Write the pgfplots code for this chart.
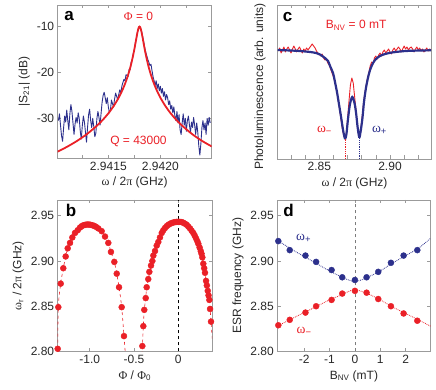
\documentclass[border=0pt]{standalone}
\usepackage{fontspec}
\setmainfont{Liberation Sans}
\newfontfamily\grk{Liberation Serif}
\usepackage{pgfplots}
\pgfplotsset{compat=1.18}

\definecolor{pred}{RGB}{234,32,39}
\definecolor{pblue}{RGB}{44,48,140}
\definecolor{fgray}{RGB}{155,155,155}
\definecolor{txt}{RGB}{40,40,40}

\newcommand{\fs}{\fontsize{12}{14}\selectfont}
\newcommand{\w}{{\grk ω}}

\pgfplotsset{
  panel/.style={
    scale only axis,
    anchor=south west,
    axis line style={fgray, line width=0.7pt},
    tick style={fgray, line width=0.6pt},
    major tick length=3.5pt, minor tick length=3.5pt,
    tick align=inside,
    tick label style={font=\fs, text=txt},
    label style={font=\fs, text=txt},
    /pgf/number format/assume math mode=true,
    scaled ticks=false,
  },
}
\tikzset{
  lett/.style={font=\bfseries\fontsize{17}{17}\selectfont, text=black, anchor=base},
  ann/.style={font=\fs, anchor=base},
  wann/.style={font=\fontsize{13.5}{15}\selectfont, anchor=base},
}

\begin{document}
\begin{tikzpicture}
\path[use as bounding box] (0,0) rectangle (436pt,390pt);

% ---------- a: transmission, x = (f - 2.941 GHz) in units of 1e-5 GHz
\begin{axis}[panel, at={(57.7pt,231.7pt)}, width=154pt, height=153.3pt,
  xmin=1.3, xmax=149.4, ymin=-38.7, ymax=-5.3,
  xtick={50,100}, xticklabels={2.9415,2.9420}, minor xtick={25,75,125},
  ytick={-30,-20,-10},
  xlabel={\w\ / 2{\grk π} (GHz)}, ylabel={|S\textsubscript{21}| (dB)}]
\addplot[pblue, line width=0.9pt, line join=round] coordinates {
 (2,-30.5) (3,-29.0) (4,-31.5) (5,-33.8) (6,-35.0) (7,-32.0) (8,-29.5) (9,-30.8)
 (10,-28.2) (11,-30.5) (12,-32.5) (13,-29.0) (14,-27.0) (15,-28.5) (16,-31.0) (17,-33.5)
 (18,-31.2) (19,-29.8) (20,-31.0) (21,-28.8) (22,-30.0) (23,-32.8) (24,-34.5) (25,-31.5)
 (26,-29.5) (27,-30.8) (28,-33.0) (29,-35.2) (30,-32.0) (31,-29.2) (32,-28.0) (33,-30.5)
 (34,-32.0) (35,-30.0) (36,-31.8) (37,-34.0) (38,-33.2) (39,-30.0) (40,-28.5) (41,-29.8)
 (42,-31.5) (43,-29.0) (44,-26.5) (45,-25.0) (46,-24.3) (47,-25.5) (48,-26.8) (49,-25.5)
 (50,-27.5) (51,-28.8) (52,-28.2) (53,-26.0) (54,-26.8) (55,-27.5) (56,-25.8) (57,-24.5)
 (58,-25.2) (59,-26.0) (60,-24.8) (61,-23.8) (62,-24.5) (63,-23.0) (64,-22.2) (65,-21.5)
 (66,-21.8) (67,-20.5) (68,-20.6) (69,-20.9) (70,-19.3) (71,-19.4) (72,-17.7) (73,-17.4)
 (74,-15.8) (75,-15.1) (76,-13.5) (77,-12.6) (78,-11.2) (79,-10.4) (80,-10.0) (81,-10.5)
 (82,-11.1) (83,-12.2) (84,-13.3) (85,-14.6) (86,-15.6) (87,-16.4) (88,-17.2) (89,-17.8)
 (90,-18.5) (91,-18.2) (92,-19.6) (93,-20.9) (94,-21.8) (95,-22.8) (96,-21.8) (97,-23.5)
 (98,-22.5) (99,-24.0) (100,-23.0) (101,-24.5) (102,-23.5) (103,-25.2) (104,-24.2) (105,-26.0)
 (106,-24.8) (107,-25.5) (108,-27.0) (109,-26.2) (110,-28.0) (111,-27.2) (112,-28.8) (113,-27.5)
 (114,-29.5) (115,-30.5) (116,-28.5) (117,-31.0) (118,-29.2) (119,-32.5) (120,-33.5) (121,-31.0)
 (122,-29.0) (123,-31.5) (124,-30.0) (125,-32.8) (126,-30.5) (127,-29.5) (128,-31.5) (129,-33.0)
 (130,-30.8) (131,-32.0) (132,-29.8) (133,-31.5) (134,-33.5) (135,-31.0) (136,-33.0) (137,-36.0)
 (138,-38.0) (139,-35.5) (140,-32.0) (141,-30.5) (142,-32.5) (143,-31.0) (144,-33.5) (145,-30.0)
 (146,-31.5) (147,-29.8) (148,-31.0)
};
\addplot[pred, line width=1.8pt, smooth] coordinates {
 (1,-37.28) (10,-36.23) (20,-34.90) (30,-33.32) (40,-31.39) (45,-30.24) (50,-28.92)
 (55,-27.36) (60,-25.47) (64,-23.60) (67,-21.89) (70,-19.80) (72,-18.11) (74,-16.10)
 (75,-14.97) (76,-13.74) (77,-12.48) (78,-11.28) (79,-10.36) (79.5,-10.09) (80,-10)
 (80.5,-10.09) (81,-10.36) (82,-11.28) (83,-12.48) (84,-13.74) (85,-14.97) (86,-16.10)
 (88,-18.11) (90,-19.80) (93,-21.89) (96,-23.60) (100,-25.47) (105,-27.36) (110,-28.92)
 (115,-30.24) (120,-31.39) (130,-33.32) (140,-34.90) (149.5,-36.12)
};
\node[ann, pred] at (axis cs:79,-8.7) {{\grk Φ} = 0};
\node[ann, pred] at (axis cs:79,-35.8) {Q = 43000};
\node[lett] at (rel axis cs:0.074,0.899) {a};
\end{axis}

% ---------- c: photoluminescence
\begin{axis}[panel, at={(277.7pt,231pt)}, width=153.6pt, height=154pt,
  xmin=2.82058, xmax=2.92921, ymin=0, ymax=154,
  xtick={2.85,2.90}, minor xtick={2.83,2.84,2.86,2.87,2.88,2.89,2.91,2.92},
  xticklabel style={/pgf/number format/.cd, fixed, precision=2, zerofill},
  ytick=\empty,
  xlabel={\w\ / 2{\grk π} (GHz)}, ylabel={Photoluminescence (arb. units)},
  ylabel style={at={(axis description cs:-0.115,0.47)}, anchor=center, font=\fs}]
\addplot[pred, line width=0.9pt, line join=round] coordinates {
 (2.821,108) (2.822,111) (2.823,106) (2.824,109) (2.825,112) (2.826,107) (2.827,110)
 (2.828,112) (2.829,109) (2.830,106) (2.831,110) (2.832,113) (2.833,110) (2.834,107)
 (2.835,110) (2.836,112) (2.837,109) (2.838,106) (2.839,110) (2.840,108) (2.841,111)
 (2.842,109) (2.843,111) (2.844,113) (2.845,115) (2.846,113) (2.847,111) (2.848,108)
 (2.849,106) (2.850,105) (2.851,103) (2.852,105) (2.853,101) (2.854,99) (2.855,100)
 (2.856,96) (2.857,94) (2.858,90) (2.859,86) (2.860,82) (2.861,77) (2.862,70)
 (2.863,62) (2.864,53) (2.865,43) (2.866,33) (2.867,25) (2.868,21) (2.869,24)
 (2.870,40) (2.871,58) (2.872,74) (2.873,81) (2.874,76) (2.875,62) (2.876,48)
 (2.877,33) (2.878,23) (2.879,25) (2.880,38) (2.881,52) (2.882,64) (2.883,72)
 (2.884,80) (2.885,86) (2.886,93) (2.887,97) (2.888,95) (2.889,101) (2.890,103)
 (2.891,100) (2.892,104) (2.893,106) (2.894,103) (2.895,107) (2.896,109) (2.897,106)
 (2.898,108) (2.899,110) (2.900,107) (2.901,105) (2.902,109) (2.903,111) (2.904,108)
 (2.905,110) (2.906,112) (2.907,110) (2.908,107) (2.909,110) (2.910,113) (2.911,110)
 (2.912,112) (2.913,109) (2.914,111) (2.915,112) (2.916,110) (2.917,107) (2.918,110)
 (2.919,112) (2.920,109) (2.921,111) (2.922,108) (2.923,110) (2.924,107) (2.925,109)
 (2.926,111) (2.927,108) (2.928,110) (2.929,109)
};
\addplot[pblue, line width=2.2pt, smooth] coordinates {
 (2.8206,109) (2.8293,108.5) (2.8363,108) (2.8434,107) (2.8477,106) (2.8505,104.5)
 (2.8540,101) (2.8562,98) (2.8576,93) (2.8597,86) (2.8611,77) (2.8625,67) (2.8639,55)
 (2.8654,42) (2.8668,29) (2.8678,22) (2.8684,20.5) (2.8692,25) (2.8703,40) (2.8717,55)
 (2.8733,62) (2.8749,56) (2.8760,46) (2.8770,33) (2.8779,24) (2.8785,22) (2.8795,30)
 (2.8806,42) (2.8816,57) (2.8830,71) (2.8844,81) (2.8859,89) (2.8880,96) (2.8901,100)
 (2.8929,103) (2.8965,105) (2.9014,106.5) (2.9071,107.5) (2.9141,108.2) (2.9290,108.7)
};
\addplot[pred, densely dotted, line width=0.8pt] coordinates {(2.8684,0) (2.8684,20)};
\addplot[pblue, densely dotted, line width=0.8pt] coordinates {(2.8785,0) (2.8785,22)};
\node[ann, pred] at (axis cs:2.8760,130.7) {B\textsubscript{NV} = 0 mT};
\node[wann, pred] at (axis cs:2.8537,26.3) {\w\textsubscript{−}};
\node[wann, pblue] at (axis cs:2.8926,26.3) {\w\textsubscript{+}};
\node[lett] at (rel axis cs:0.064,0.896) {c};
\end{axis}

% ---------- b: flux tuning
\begin{axis}[panel, at={(57.7pt,38.5pt)}, width=154.3pt, height=151.5pt,
  xmin=-1.361, xmax=0.380, ymin=2.80, ymax=2.9674,
  xtick={-1,-0.5,0}, xticklabels={-1.0,-0.5,0},
  ytick={2.80,2.85,2.90,2.95},
  yticklabel style={/pgf/number format/.cd, fixed, precision=2, zerofill},
  xlabel={{\grk Φ} / {\grk Φ}\textsubscript{0}},
  ylabel={\w\textsubscript{r} / 2{\grk π} (GHz)}]
\addplot[black, dashed, line width=0.6pt] coordinates {(0,2.80) (0,2.9674)};
\addplot[pred, dashed, line width=0.6pt, smooth] coordinates {
 (-1.363,2.79) (-1.354,2.849) (-1.327,2.875) (-1.298,2.892) (-1.271,2.905) (-1.248,2.914)
 (-1.222,2.920) (-1.196,2.926) (-1.166,2.931) (-1.135,2.934) (-1.109,2.937) (-1.07,2.9395)
 (-1.03,2.9403) (-0.99,2.9400) (-0.95,2.9388) (-0.903,2.936) (-0.865,2.933) (-0.827,2.927)
 (-0.790,2.920) (-0.760,2.910) (-0.722,2.899) (-0.695,2.886) (-0.669,2.871) (-0.639,2.849)
 (-0.613,2.817) (-0.592,2.79)
};
\addplot[pred, dashed, line width=0.6pt, smooth] coordinates {
 (-0.412,2.79) (-0.395,2.828) (-0.384,2.846) (-0.368,2.859) (-0.357,2.871) (-0.339,2.880)
 (-0.308,2.895) (-0.282,2.906) (-0.244,2.917) (-0.207,2.926) (-0.169,2.934) (-0.131,2.9385)
 (-0.094,2.941) (-0.056,2.9425) (0,2.9433) (0.056,2.9423) (0.095,2.940) (0.132,2.936)
 (0.169,2.931) (0.200,2.925) (0.226,2.919) (0.253,2.911) (0.271,2.904) (0.292,2.892)
 (0.313,2.878) (0.332,2.867) (0.350,2.857) (0.369,2.833) (0.385,2.812)
};
\addplot[only marks, mark=*, mark size=3pt, pred] coordinates {
 (-1.361,2.803) (-1.354,2.849) (-1.327,2.875) (-1.298,2.892) (-1.271,2.905) (-1.248,2.914)
 (-1.222,2.920) (-1.196,2.926) (-1.166,2.931) (-1.135,2.934) (-1.109,2.937) (-1.09,2.9385)
 (-1.07,2.9395) (-1.05,2.9400) (-1.03,2.9403) (-1.01,2.9403) (-0.99,2.9400) (-0.97,2.9395)
 (-0.95,2.9388) (-0.93,2.9378) (-0.903,2.936) (-0.865,2.933) (-0.827,2.927) (-0.790,2.920)
 (-0.760,2.910) (-0.722,2.899) (-0.695,2.886) (-0.669,2.871) (-0.639,2.849) (-0.613,2.817)
 (-0.406,2.806) (-0.395,2.828) (-0.384,2.846) (-0.368,2.859) (-0.357,2.871) (-0.339,2.880)
 (-0.327,2.888) (-0.308,2.895) (-0.293,2.900) (-0.282,2.906) (-0.263,2.911) (-0.244,2.917)
 (-0.226,2.921) (-0.207,2.926) (-0.187,2.931) (-0.169,2.934) (-0.150,2.9365) (-0.131,2.9385)
 (-0.112,2.940) (-0.094,2.941) (-0.075,2.942) (-0.056,2.9425) (-0.037,2.943) (-0.018,2.9432)
 (0,2.9433) (0.018,2.9432) (0.037,2.943) (0.056,2.9423) (0.075,2.9412) (0.095,2.940)
 (0.113,2.938) (0.132,2.936) (0.150,2.9335) (0.169,2.931) (0.185,2.928) (0.200,2.925)
 (0.214,2.922) (0.226,2.919) (0.240,2.915) (0.253,2.911) (0.262,2.908) (0.271,2.904)
 (0.282,2.897) (0.292,2.892) (0.301,2.887) (0.313,2.878) (0.322,2.873) (0.332,2.867)
 (0.341,2.862) (0.350,2.857) (0.358,2.847) (0.369,2.833)
};
\node[lett] at (rel axis cs:0.086,0.888) {b};
\end{axis}

% ---------- d: ESR frequencies vs field
\begin{axis}[panel, at={(277.3pt,38.5pt)}, width=153.2pt, height=151.5pt,
  xmin=-3.06, xmax=2.98, ymin=2.80, ymax=2.9674,
  xtick={-2,-1,0,1,2},
  ytick={2.80,2.85,2.90,2.95},
  yticklabel style={/pgf/number format/.cd, fixed, precision=2, zerofill},
  xlabel={B\textsubscript{NV} (mT)}, ylabel={ESR frequency (GHz)}]
\addplot[fgray!80!black, dashed, line width=0.6pt] coordinates {(0,2.80) (0,2.9674)};
\addplot[pblue, densely dotted, line width=0.8pt, smooth] coordinates {
 (-3.06,2.923) (-2.5,2.913) (-2,2.905) (-1.5,2.897) (-1,2.889) (-0.5,2.882) (-0.2,2.8785)
 (0,2.8775) (0.2,2.8785) (0.5,2.882) (1,2.889) (1.5,2.898) (2,2.906) (2.5,2.914) (2.98,2.925)
};
\addplot[pred, densely dotted, line width=0.8pt, smooth] coordinates {
 (-3.06,2.828) (-2.5,2.836) (-2,2.843) (-1.5,2.850) (-1,2.857) (-0.5,2.863) (-0.2,2.867)
 (0,2.868) (0.2,2.867) (0.5,2.864) (1,2.857) (1.5,2.849) (2,2.842) (2.5,2.835) (2.98,2.828)
};
\addplot[only marks, mark=*, mark size=3pt, pblue] coordinates {
 (-3.02,2.922) (-2.57,2.912) (-1.95,2.906) (-1.53,2.899) (-0.92,2.890) (-0.50,2.882)
 (0.00,2.879) (0.46,2.882) (0.92,2.888) (1.42,2.898) (1.92,2.906) (2.46,2.912)
};
\addplot[only marks, mark=*, mark size=3pt, pred] coordinates {
 (-3.02,2.829) (-2.57,2.835) (-1.95,2.843) (-1.53,2.850) (-0.92,2.857) (-0.50,2.864)
 (0.00,2.867) (0.46,2.865) (0.92,2.858) (1.42,2.850) (1.92,2.842) (2.46,2.834)
};
\node[wann, pblue] at (axis cs:-2.02,2.9226) {\w\textsubscript{+}};
\node[wann, pred] at (axis cs:-2.0,2.8203) {\w\textsubscript{−}};
\node[lett] at (rel axis cs:0.073,0.888) {d};
\end{axis}
\end{tikzpicture}
\end{document}
